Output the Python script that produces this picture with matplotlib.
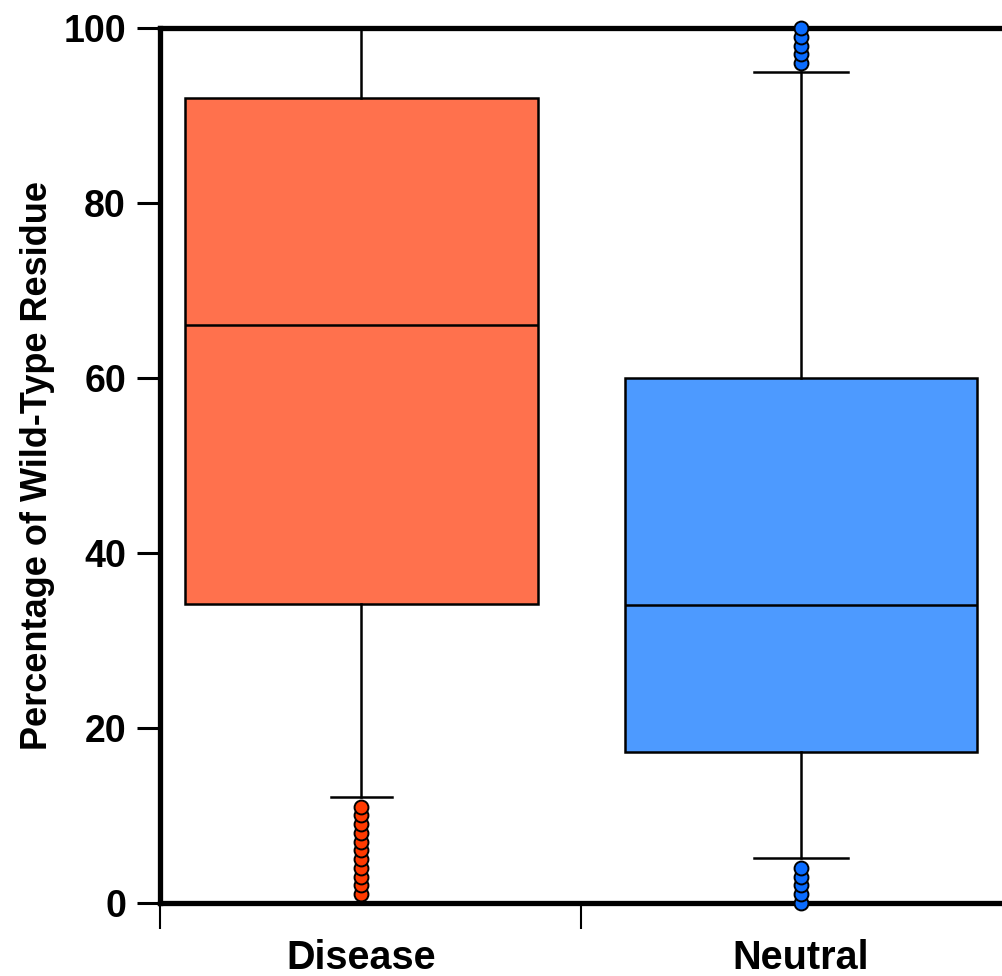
import matplotlib.pyplot as plt

plt.rcParams["font.family"] = ["Liberation Sans", "DejaVu Sans"]
plt.rcParams["font.weight"] = "bold"

categories = ["Disease", "Neutral"]
q1 = [34.2, 17.3]
medians = [66.1, 34.1]
q3 = [92.0, 60.0]
whisker_low = [12.1, 5.1]
whisker_high = [100.0, 95.0]
outliers = [
    [1, 2, 3, 4, 5, 6, 7, 8, 9, 10, 11],
    [0, 1, 2, 3, 4, 96, 97, 98, 99, 100],
]
box_colors = ["#FF714D", "#4D9AFF"]
point_colors = ["#FF3A00", "#0A6CFF"]

fig = plt.figure(figsize=(10.03, 9.76), dpi=100)
ax = fig.add_axes([0.1595, 0.0748, 0.8405, 0.8965])

stats = []
for i in range(len(categories)):
    stats.append({"q1": q1[i], "med": medians[i], "q3": q3[i],
                  "whislo": whisker_low[i], "whishi": whisker_high[i],
                  "fliers": outliers[i], "label": categories[i]})

bp = ax.bxp(stats, positions=[0, 1], widths=0.803, patch_artist=True,
            capwidths=[0.141, 0.214], showfliers=False,
            boxprops=dict(linewidth=1.8, edgecolor="black"),
            medianprops=dict(color="black", linewidth=1.8),
            whiskerprops=dict(color="black", linewidth=1.8),
            capprops=dict(color="black", linewidth=1.8))
for patch, c in zip(bp["boxes"], box_colors):
    patch.set_facecolor(c)

for i in range(len(categories)):
    ax.plot([i] * len(outliers[i]), outliers[i], "o", color=point_colors[i],
            markeredgecolor="black", markeredgewidth=1.4, markersize=10,
            linestyle="none", zorder=4, clip_on=False)

ax.set_xlim(-0.4585, 1.4596)
ax.set_ylim(0, 100)

for s in ["top", "bottom", "left"]:
    ax.spines[s].set_linewidth(3.8)
ax.spines["right"].set_visible(False)

ax.set_yticks([0, 20, 40, 60, 80, 100])
ax.tick_params(axis="y", length=16.5, width=2.2, pad=8, labelsize=27)

ax.set_xticks([-0.4585, 0.5])
ax.set_xticklabels(["", ""])
ax.tick_params(axis="x", which="major", length=19, width=1.5)
ax.set_xticks([0, 1], minor=True)
ax.set_xticklabels(categories, minor=True)
ax.tick_params(axis="x", which="minor", length=0, pad=26, labelsize=28.5)

ax.set_ylabel("Percentage of Wild-Type Residue", fontsize=26, fontweight="bold")
ax.yaxis.set_label_coords(-0.125, 0.5)

plt.savefig("out.png", dpi=100)
